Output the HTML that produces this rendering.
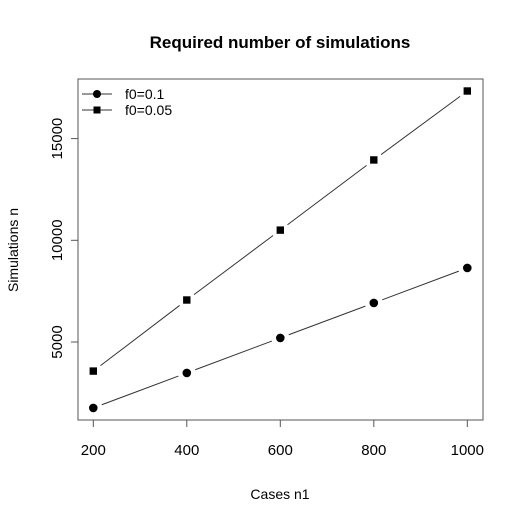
<!DOCTYPE html>
<html><head><meta charset="utf-8"><style>
body{margin:0;background:#fff}
svg text{font-family:"Liberation Sans",Arial,sans-serif;fill:#000}
</style></head><body>
<svg width="523" height="519" xmlns="http://www.w3.org/2000/svg">
<rect width="523" height="519" fill="#fff"/>
<text x="280" y="48" font-size="17" font-weight="bold" text-anchor="middle">Required number of simulations</text>
<rect x="78" y="79" width="405" height="341" fill="none" stroke="#555" stroke-width="1"/>
<g id="xaxis"></g>
<g id="yaxis"></g>
<text x="280" y="499" font-size="14" text-anchor="middle">Cases n1</text>
<text x="0" y="0" font-size="14" text-anchor="middle" transform="translate(18,250) rotate(-90)">Simulations n</text>
<g id="series"></g>
<g>
<line x1="82" y1="94" x2="112" y2="94" stroke="#333"/><circle cx="97" cy="94" r="4" fill="#000"/>
<text x="125" y="99" font-size="14">f0=0.1</text>
<line x1="82" y1="110" x2="112" y2="110" stroke="#333"/><rect x="93.5" y="106.5" width="7" height="7" fill="#000"/>
<text x="125" y="115" font-size="14">f0=0.05</text>
</g>
</svg>
<script>
const categories=[200,400,600,800,1000];
const seriesF01=[1760,3480,5200,6920,8640];
const seriesF005=[3570,7065,10500,13950,17340];
const xTicks=[200,400,600,800,1000];
const yTicks=[5000,10000,15000];
const NS="http://www.w3.org/2000/svg";
function xs(v){return 93.3+(v-200)*(374/800);}
function ys(v){return 342-(v-5000)*(101.7/5000);}
function mk(t,a){const e=document.createElementNS(NS,t);for(const k in a)e.setAttribute(k,a[k]);return e;}
const xa=document.getElementById('xaxis'),ya=document.getElementById('yaxis'),sg=document.getElementById('series');
xa.appendChild(mk('line',{x1:xs(xTicks[0]),x2:xs(xTicks[xTicks.length-1]),y1:420,y2:420,stroke:'#555'}));
xTicks.forEach(t=>{xa.appendChild(mk('line',{x1:xs(t),x2:xs(t),y1:420,y2:427,stroke:'#555'}));
const tx=mk('text',{x:xs(t),y:455,'font-size':15,'text-anchor':'middle'});tx.textContent=t;


xa.appendChild(tx);});
ya.appendChild(mk('line',{x1:78,x2:78,y1:ys(yTicks[0]),y2:ys(yTicks[yTicks.length-1]),stroke:'#555'}));
yTicks.forEach(t=>{ya.appendChild(mk('line',{x1:71,x2:78,y1:ys(t),y2:ys(t),stroke:'#555'}));
const tx=mk('text',{x:0,y:0,'font-size':15,'text-anchor':'middle',transform:`translate(62,${ys(t)}) rotate(-90)`});tx.textContent=t;


ya.appendChild(tx);});
function drawLine(vals,shape,name){
 for(let i=0;i<vals.length-1;i++){
  const x1=xs(categories[i]),y1=ys(vals[i]),x2=xs(categories[i+1]),y2=ys(vals[i+1]);
  const dx=x2-x1,dy=y2-y1,L=Math.hypot(dx,dy),g=9;
  const l=mk('line',{x1:x1+dx/L*g,y1:y1+dy/L*g,x2:x2-dx/L*g,y2:y2-dy/L*g,stroke:'#333','stroke-width':1});
  
  
  sg.appendChild(l);
 }
 vals.forEach((v,i)=>{
  const x=xs(categories[i]),y=ys(v);
  const m=shape==='c'?mk('circle',{cx:x,cy:y,r:4.3,fill:'#000'}):mk('rect',{x:x-3.7,y:y-3.7,width:7.4,height:7.4,fill:'#000'});
  
  
  sg.appendChild(m);
 });
}
drawLine(seriesF01,'c','f0-0.1');
drawLine(seriesF005,'s','f0-0.05');
</script>
</body></html>
